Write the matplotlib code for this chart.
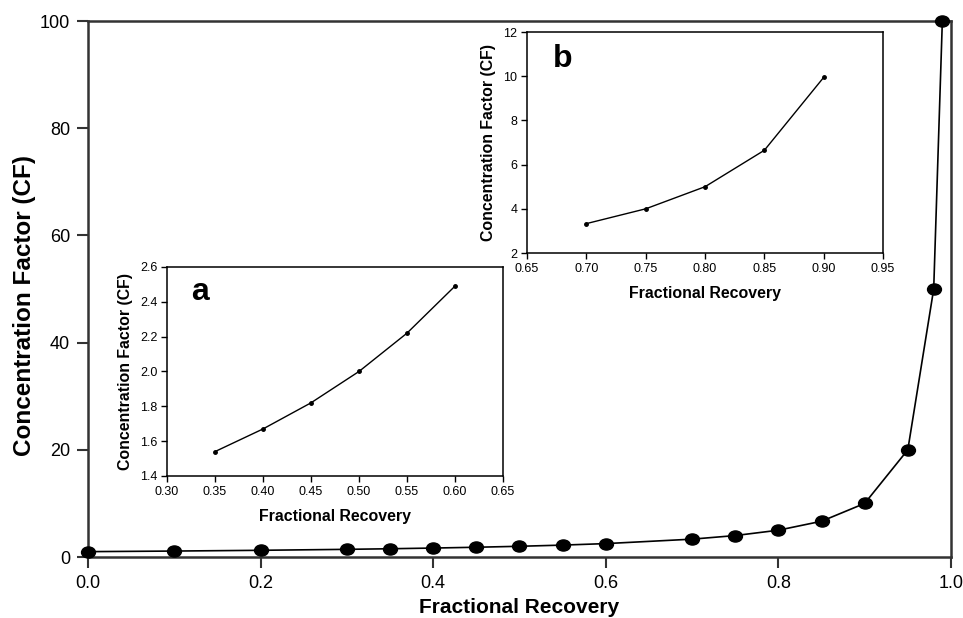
#!/usr/bin/env python3
import matplotlib
matplotlib.use('Agg')
import matplotlib.pyplot as plt
from matplotlib.path import Path
from matplotlib.transforms import Affine2D

plt.rcParams['font.family'] = ['Liberation Sans', 'DejaVu Sans']

# Dati
recovery = [0.0, 0.1, 0.2, 0.3, 0.35, 0.4, 0.45, 0.5, 0.55, 0.6,
            0.7, 0.75, 0.8, 0.85, 0.9, 0.95, 0.98, 0.99]
cf = [1.0, 1.11, 1.25, 1.43, 1.54, 1.67, 1.82, 2.0, 2.22, 2.5,
      3.33, 4.0, 5.0, 6.67, 10.0, 20.0, 50.0, 100.0]

rec_a = [0.35, 0.40, 0.45, 0.50, 0.55, 0.60]
cf_a = [1.54, 1.67, 1.82, 2.0, 2.22, 2.49]

rec_b = [0.70, 0.75, 0.80, 0.85, 0.90]
cf_b = [3.33, 4.0, 5.0, 6.65, 9.95]

# Marker ellittico
circle = Path.unit_circle()
ellipse = Affine2D().scale(1.25, 1.0).transform_path(circle)

fig = plt.figure(figsize=(9.63, 6.18), dpi=100)

ax = fig.add_axes([0.0914, 0.0987, 0.8961, 0.8673])
ax.plot(recovery, cf, color='black', linewidth=1.2, marker=ellipse,
        markersize=10, markerfacecolor='black', markeredgecolor='black',
        clip_on=False, zorder=5)
ax.set_xlim(0, 1.0)
ax.set_ylim(0, 100)
ax.set_xticks([0.0, 0.2, 0.4, 0.6, 0.8, 1.0])
ax.set_xticklabels(['0.0', '0.2', '0.4', '0.6', '0.8', '1.0'])
ax.set_yticks([0, 20, 40, 60, 80, 100])
ax.tick_params(direction='out', length=8, width=1.5, labelsize=13,
               color='#333333', pad=5)
for s in ax.spines.values():
    s.set_linewidth(1.8)
    s.set_color('#333333')
ax.set_xlabel('Fractional Recovery', fontsize=15, fontweight='bold', labelpad=4)
ax.set_ylabel('Concentration Factor (CF)', fontsize=17.5, fontweight='bold')
ax.yaxis.set_label_coords(-0.06, 0.47)


def inset(rect, x, y, xlim, ylim, xticks, yticks, xfmt, yfmt, letter):
    a = fig.add_axes(rect)
    a.plot(x, y, color='black', linewidth=1.0, marker='o', markersize=2.5)
    a.set_xlim(*xlim)
    a.set_ylim(*ylim)
    a.set_xticks(xticks)
    a.set_xticklabels([xfmt % t for t in xticks])
    a.set_yticks(yticks)
    a.set_yticklabels([yfmt % t for t in yticks])
    a.tick_params(direction='out', length=4, width=1.0, labelsize=9, pad=3)
    for s in a.spines.values():
        s.set_linewidth(1.1)
    a.set_xlabel('Fractional Recovery', fontsize=11.4, fontweight='bold', labelpad=8)
    a.set_ylabel('Concentration Factor (CF)', fontsize=11.4, fontweight='bold', labelpad=5)
    a.text(0.072, 0.84, letter, transform=a.transAxes, fontsize=23,
           fontweight='bold', va='baseline', ha='left')
    return a


inset([0.1734, 0.2298, 0.3489, 0.3382], rec_a, cf_a, (0.30, 0.65), (1.4, 2.6),
      [0.30, 0.35, 0.40, 0.45, 0.50, 0.55, 0.60, 0.65],
      [1.4, 1.6, 1.8, 2.0, 2.2, 2.4, 2.6], '%.2f', '%.1f', 'a')

inset([0.5473, 0.5906, 0.3697, 0.3576], rec_b, cf_b, (0.65, 0.95), (2, 12),
      [0.65, 0.70, 0.75, 0.80, 0.85, 0.90, 0.95],
      [2, 4, 6, 8, 10, 12], '%.2f', '%d', 'b')

out = 'out.png'
fig.savefig(out, dpi=100)
print(f"Saved plot to {out}")
